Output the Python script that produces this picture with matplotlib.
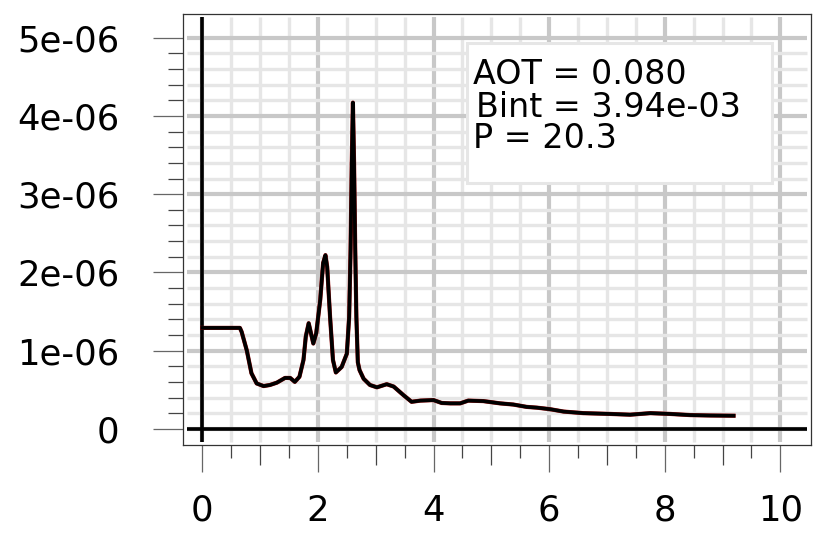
"""Volume size distribution with retrieval summary box."""
import numpy as np
import matplotlib
matplotlib.use("Agg")
from matplotlib import pyplot as plt
from matplotlib.patches import Rectangle

radius = [0.0, 0.65, 0.68, 0.77, 0.85, 0.94, 1.06, 1.17, 1.29, 1.43, 1.52,
          1.60, 1.68, 1.75, 1.79, 1.84, 1.88, 1.92, 1.97, 2.04, 2.09, 2.13,
          2.16, 2.21, 2.26, 2.31, 2.41, 2.50, 2.54, 2.565, 2.585, 2.605,
          2.625, 2.645, 2.665, 2.69, 2.72, 2.79, 2.90, 3.02, 3.19, 3.31,
          3.48, 3.62, 3.77, 4.00, 4.14, 4.29, 4.46, 4.60, 4.86, 5.15, 5.38,
          5.61, 5.79, 6.02, 6.25, 6.59, 7.05, 7.40, 7.75, 8.09, 8.44, 8.78,
          9.19]
volume = [1.29, 1.29, 1.24, 1.00, 0.71, 0.58, 0.546, 0.56, 0.59, 0.65, 0.65,
          0.60, 0.665, 0.88, 1.18, 1.35, 1.22, 1.09, 1.22, 1.65, 2.12, 2.22,
          2.07, 1.43, 0.88, 0.72, 0.79, 0.96, 1.43, 2.3, 3.4, 4.17,
          3.4, 2.3, 1.43, 0.85, 0.75, 0.64, 0.56, 0.53, 0.57, 0.54,
          0.43, 0.345, 0.36, 0.367, 0.33, 0.325, 0.325, 0.36, 0.354, 0.325, 0.31,
          0.28, 0.27, 0.25, 0.22, 0.20, 0.19, 0.18, 0.20, 0.19, 0.175, 0.17,
          0.167]
volume = np.array(volume) * 1e-6

y_ticks = [0, 1e-6, 2e-6, 3e-6, 4e-6, 5e-6]
y_labels = ["0", "1e-06", "2e-06", "3e-06", "4e-06", "5e-06"]
x_ticks = [0, 2, 4, 6, 8, 10]
x_labels = ["0", "2", "4", "6", "8", "10"]

info_lines = ["AOT = 0.080", "Bint = 3.94e-03", "P = 20.3"]

plt.rcParams["font.family"] = ["DejaVu Sans"]

fig = plt.figure(figsize=(8.17, 5.33), dpi=100)
ax = fig.add_axes([0.224, 0.165, 0.7687, 0.8087])
ax.set_xlim(-0.334, 10.53)
ax.set_ylim(-0.208e-6, 5.303e-6)

# grid drawn by hand so it stops short of the frame
gx0, gx1 = -0.265, 10.46
gy0, gy1 = -0.17e-6, 5.265e-6
for xv in np.arange(0, 10.01, 0.5):
    major = abs(xv % 2) < 1e-9
    ax.vlines(xv, gy0, gy1, color="#c8c8c8" if major else "#e6e6e6",
              lw=3.0 if major else 2.4, zorder=1)
for yv in np.arange(0, 5.01e-6, 0.2e-6):
    major = abs((yv / 1e-6) - round(yv / 1e-6)) < 1e-6
    ax.hlines(yv, gx0, gx1, color="#c8c8c8" if major else "#e6e6e6",
              lw=3.0 if major else 2.4, zorder=1)

# zero lines
ax.hlines(0, gx0, gx1, color="black", lw=2.6, zorder=3)
ax.vlines(0, gy0, gy1, color="black", lw=2.6, zorder=3)

# the distribution
ax.plot(radius, volume, color="#a01010", lw=3.0, zorder=4,
        solid_joinstyle="round")
ax.plot(radius, volume, color="black", lw=2.6, zorder=5,
        solid_joinstyle="round")

# summary box
ax.add_patch(Rectangle((0.452, 0.608), 0.486, 0.325, transform=ax.transAxes,
                       facecolor="white", edgecolor="#e6e6e6", lw=2.2,
                       zorder=2))
ax.text(0.461, 0.8376, info_lines[0], transform=ax.transAxes, fontsize=24,
        va="baseline", zorder=6)
ax.text(0.467, 0.760, info_lines[1], transform=ax.transAxes, fontsize=24,
        va="baseline", zorder=6)
ax.text(0.461, 0.6884, info_lines[2], transform=ax.transAxes, fontsize=24,
        va="baseline", zorder=6)

# ticks
ax.set_yticks(y_ticks, labels=y_labels)
ax.set_yticks(np.arange(0, 5.01e-6, 0.2e-6), minor=True)
ax.set_xticks(x_ticks, labels=x_labels)
ax.set_xticks(np.arange(0.5, 10.1, 1.0), minor=True)
ax.tick_params(axis="y", which="major", length=21.6, width=0.9,
               color="#666666", labelsize=25.5, pad=24)
ax.tick_params(axis="y", which="minor", length=10.8, width=0.9,
               color="#444444")
ax.tick_params(axis="x", which="major", length=19.2, width=0.9,
               color="#666666", labelsize=25.5, pad=16)
ax.tick_params(axis="x", which="minor", length=9.4, width=0.9,
               color="#444444")

# odd integers get a medium tick
ax2 = ax.secondary_xaxis("bottom")
ax2.set_xticks([1, 3, 5, 7, 9], labels=[])
ax2.tick_params(axis="x", length=14.4, width=0.9, color="#444444")
ax2.spines["bottom"].set_visible(False)

for sp in ax.spines.values():
    sp.set_color("#333333")
    sp.set_linewidth(0.9)

fig.savefig("out.png", dpi=100)
